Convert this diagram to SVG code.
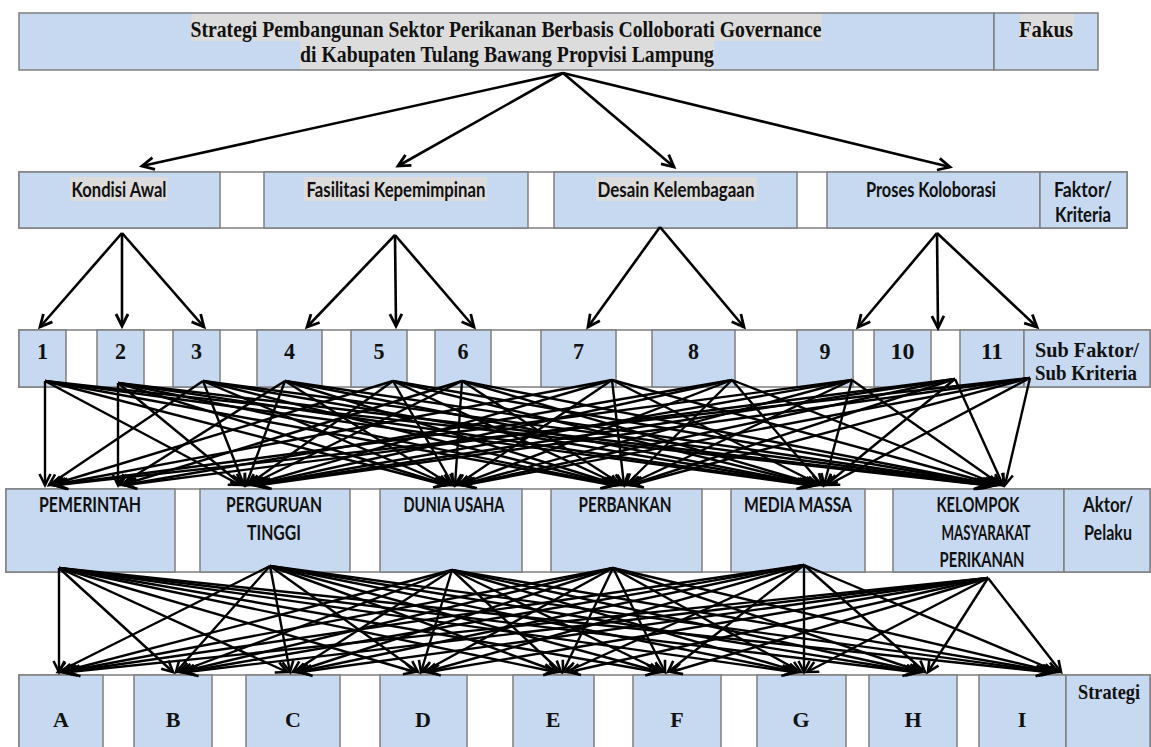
<svg xmlns="http://www.w3.org/2000/svg" width="1151" height="747" viewBox="0 0 1151 747">
<style>
.row{fill:#ffffff;stroke:#7f7f7f;stroke-width:1.5}
.cell{fill:#c6d9f0;stroke:#7f7f7f;stroke-width:1.5}
.hl{fill:#dcdcdc}
.serif{font-family:"Liberation Serif","Times New Roman",serif;font-weight:bold;fill:#111}
.sans{font-family:Lato,"Open Sans","Liberation Sans",sans-serif;font-weight:bold;fill:#111}
.arr{stroke:#000;stroke-width:2.6;fill:none;marker-end:url(#ah)}
.m{stroke:#000;stroke-width:2.4;fill:none;marker-end:url(#ah2)}
</style>
<defs>
<marker id="ah" markerUnits="userSpaceOnUse" markerWidth="16" markerHeight="16" viewBox="0 0 16 16" refX="14" refY="8" orient="auto" overflow="visible">
<path d="M2,2 L14,8 L2,14" fill="none" stroke="#000" stroke-width="2.8"/>
</marker>
<marker id="ah2" markerUnits="userSpaceOnUse" markerWidth="14" markerHeight="14" viewBox="0 0 14 14" refX="12" refY="7" orient="auto" overflow="visible">
<path d="M1,1.5 L12,7 L1,12.5" fill="none" stroke="#000" stroke-width="2.6"/>
</marker>
</defs>
<rect width="1151" height="747" fill="#ffffff"/>

<!-- Goal -->
<g id="goal">
<rect class="cell" x="19" y="13" width="975" height="57"/>
<rect class="hl" x="191" y="14" width="631" height="27"/>
<rect class="hl" x="300" y="41" width="414" height="28"/>
<text class="serif" x="506" y="37" font-size="23" text-anchor="middle" textLength="631" lengthAdjust="spacingAndGlyphs">Strategi Pembangunan Sektor Perikanan Berbasis Colloborati Governance</text>
<text class="serif" x="507" y="62" font-size="23" text-anchor="middle" textLength="414" lengthAdjust="spacingAndGlyphs">di Kabupaten Tulang Bawang Propvisi Lampung</text>
</g>
<g id="label-fakus">
<rect class="cell" x="994" y="13" width="104" height="57"/>
<rect class="hl" x="1020" y="14" width="54" height="25"/>
<text class="serif" x="1046" y="37" font-size="23" text-anchor="middle" textLength="54" lengthAdjust="spacingAndGlyphs">Fakus</text>
</g>

<!-- Row 2 -->
<rect class="row" x="19" y="172" width="1108" height="56"/>
<g id="kondisi-awal">
<rect class="cell" x="19" y="172" width="201" height="56"/>
<rect class="hl" x="70" y="177" width="98" height="24"/>
<text class="sans" x="119" y="197" font-size="20" text-anchor="middle" textLength="95" lengthAdjust="spacingAndGlyphs">Kondisi Awal</text>
</g>
<g id="fasilitasi">
<rect class="cell" x="264" y="172" width="264" height="56"/>
<rect class="hl" x="304" y="177" width="183" height="24"/>
<text class="sans" x="396" y="197" font-size="20" text-anchor="middle" textLength="179" lengthAdjust="spacingAndGlyphs">Fasilitasi Kepemimpinan</text>
</g>
<g id="desain">
<rect class="cell" x="554" y="172" width="243" height="56"/>
<rect class="hl" x="596" y="177" width="161" height="24"/>
<text class="sans" x="676" y="197" font-size="20" text-anchor="middle" textLength="157" lengthAdjust="spacingAndGlyphs">Desain Kelembagaan</text>
</g>
<g id="proses">
<rect class="cell" x="827" y="172" width="213" height="56"/>
<text class="sans" x="931" y="197" font-size="20" text-anchor="middle" textLength="130" lengthAdjust="spacingAndGlyphs">Proses Koloborasi</text>
</g>
<g id="label-faktor">
<rect class="cell" x="1040" y="172" width="87" height="56"/>
<text class="sans" x="1083" y="197" font-size="20" text-anchor="middle" textLength="58" lengthAdjust="spacingAndGlyphs">Faktor/</text>
<text class="sans" x="1083" y="222" font-size="20" text-anchor="middle" textLength="56" lengthAdjust="spacingAndGlyphs">Kriteria</text>
</g>

<!-- Row 3 -->
<rect class="row" x="19" y="330" width="1131" height="57"/>
<g id="sf1"><rect class="cell" x="19" y="330" width="47" height="57"/><text class="serif" x="42.5" y="359" font-size="24" text-anchor="middle" textLength="11" lengthAdjust="spacingAndGlyphs">1</text></g>
<g id="sf2"><rect class="cell" x="97" y="330" width="47" height="57"/><text class="serif" x="120.5" y="359" font-size="24" text-anchor="middle" textLength="11" lengthAdjust="spacingAndGlyphs">2</text></g>
<g id="sf3"><rect class="cell" x="173" y="330" width="47" height="57"/><text class="serif" x="196.5" y="359" font-size="24" text-anchor="middle" textLength="11" lengthAdjust="spacingAndGlyphs">3</text></g>
<g id="sf4"><rect class="cell" x="257" y="330" width="65" height="57"/><text class="serif" x="289.5" y="359" font-size="24" text-anchor="middle" textLength="11" lengthAdjust="spacingAndGlyphs">4</text></g>
<g id="sf5"><rect class="cell" x="351" y="330" width="56" height="57"/><text class="serif" x="379" y="359" font-size="24" text-anchor="middle" textLength="11" lengthAdjust="spacingAndGlyphs">5</text></g>
<g id="sf6"><rect class="cell" x="435" y="330" width="56" height="57"/><text class="serif" x="463" y="359" font-size="24" text-anchor="middle" textLength="11" lengthAdjust="spacingAndGlyphs">6</text></g>
<g id="sf7"><rect class="cell" x="541" y="330" width="75" height="57"/><text class="serif" x="578.5" y="359" font-size="24" text-anchor="middle" textLength="11" lengthAdjust="spacingAndGlyphs">7</text></g>
<g id="sf8"><rect class="cell" x="652" y="330" width="83" height="57"/><text class="serif" x="693.5" y="359" font-size="24" text-anchor="middle" textLength="11" lengthAdjust="spacingAndGlyphs">8</text></g>
<g id="sf9"><rect class="cell" x="797" y="330" width="56" height="57"/><text class="serif" x="825" y="359" font-size="24" text-anchor="middle" textLength="11" lengthAdjust="spacingAndGlyphs">9</text></g>
<g id="sf10"><rect class="cell" x="874" y="330" width="57" height="57"/><text class="serif" x="902.5" y="359" font-size="24" text-anchor="middle" textLength="24" lengthAdjust="spacingAndGlyphs">10</text></g>
<g id="sf11"><rect class="cell" x="960" y="330" width="64" height="57"/><text class="serif" x="992" y="359" font-size="24" text-anchor="middle" textLength="22" lengthAdjust="spacingAndGlyphs">11</text></g>
<g id="label-subfaktor">
<rect class="cell" x="1024" y="330" width="126" height="57"/>
<text class="serif" x="1035" y="357" font-size="21" textLength="104" lengthAdjust="spacingAndGlyphs">Sub Faktor/</text>
<text class="serif" x="1035" y="380" font-size="21" textLength="102" lengthAdjust="spacingAndGlyphs">Sub Kriteria</text>
</g>

<!-- Row 4 -->
<rect class="row" x="6" y="489" width="1144" height="83"/>
<g id="pemerintah"><rect class="cell" x="6" y="489" width="169" height="83"/>
<text class="sans" x="90" y="512" font-size="20" text-anchor="middle" textLength="102" lengthAdjust="spacingAndGlyphs">PEMERINTAH</text></g>
<g id="perguruan-tinggi"><rect class="cell" x="200" y="489" width="150" height="83"/>
<text class="sans" x="274" y="512" font-size="20" text-anchor="middle" textLength="96" lengthAdjust="spacingAndGlyphs">PERGURUAN</text>
<text class="sans" x="274" y="540" font-size="20" text-anchor="middle" textLength="54" lengthAdjust="spacingAndGlyphs">TINGGI</text></g>
<g id="dunia-usaha"><rect class="cell" x="380" y="489" width="142" height="83"/>
<text class="sans" x="454" y="512" font-size="20" text-anchor="middle" textLength="101" lengthAdjust="spacingAndGlyphs">DUNIA USAHA</text></g>
<g id="perbankan"><rect class="cell" x="551" y="489" width="151" height="83"/>
<text class="sans" x="625" y="512" font-size="20" text-anchor="middle" textLength="93" lengthAdjust="spacingAndGlyphs">PERBANKAN</text></g>
<g id="media-massa"><rect class="cell" x="731" y="489" width="134" height="83"/>
<text class="sans" x="798" y="512" font-size="20" text-anchor="middle" textLength="108" lengthAdjust="spacingAndGlyphs">MEDIA MASSA</text></g>
<g id="kelompok"><rect class="cell" x="893" y="489" width="171" height="83"/>
<text class="sans" x="978" y="512" font-size="20" text-anchor="middle" textLength="83" lengthAdjust="spacingAndGlyphs">KELOMPOK</text>
<text class="sans" x="986" y="540" font-size="20" text-anchor="middle" textLength="89" lengthAdjust="spacingAndGlyphs">MASYARAKAT</text>
<text class="sans" x="982" y="567" font-size="20" text-anchor="middle" textLength="85" lengthAdjust="spacingAndGlyphs">PERIKANAN</text></g>
<g id="label-aktor"><rect class="cell" x="1064" y="489" width="86" height="83"/>
<text class="sans" x="1108" y="512" font-size="20" text-anchor="middle" textLength="50" lengthAdjust="spacingAndGlyphs">Aktor/</text>
<text class="sans" x="1108" y="540" font-size="20" text-anchor="middle" textLength="48" lengthAdjust="spacingAndGlyphs">Pelaku</text></g>

<!-- Row 5 -->
<rect class="row" x="19" y="675" width="1131" height="80"/>
<g id="sA"><rect class="cell" x="19" y="675" width="84" height="80"/><text class="serif" x="61" y="727" font-size="22" text-anchor="middle">A</text></g>
<g id="sB"><rect class="cell" x="134" y="675" width="78" height="80"/><text class="serif" x="173" y="727" font-size="22" text-anchor="middle">B</text></g>
<g id="sC"><rect class="cell" x="246" y="675" width="94" height="80"/><text class="serif" x="293" y="727" font-size="22" text-anchor="middle">C</text></g>
<g id="sD"><rect class="cell" x="380" y="675" width="87" height="80"/><text class="serif" x="423" y="727" font-size="22" text-anchor="middle">D</text></g>
<g id="sE"><rect class="cell" x="513" y="675" width="81" height="80"/><text class="serif" x="553" y="727" font-size="22" text-anchor="middle">E</text></g>
<g id="sF"><rect class="cell" x="633" y="675" width="88" height="80"/><text class="serif" x="677" y="727" font-size="22" text-anchor="middle">F</text></g>
<g id="sG"><rect class="cell" x="757" y="675" width="89" height="80"/><text class="serif" x="801" y="727" font-size="22" text-anchor="middle">G</text></g>
<g id="sH"><rect class="cell" x="869" y="675" width="88" height="80"/><text class="serif" x="913" y="727" font-size="22" text-anchor="middle">H</text></g>
<g id="sI"><rect class="cell" x="979" y="675" width="87" height="80"/><text class="serif" x="1022" y="727" font-size="22" text-anchor="middle">I</text></g>
<g id="label-strategi"><rect class="cell" x="1066" y="675" width="84" height="80"/>
<text class="serif" x="1109" y="699" font-size="22" text-anchor="middle" textLength="62" lengthAdjust="spacingAndGlyphs">Strategi</text></g>

<!-- Connectors -->
<g id="connectors">
<line class="arr" x1="563" y1="73" x2="142" y2="166"/>
<line class="arr" x1="563" y1="73" x2="398" y2="166"/>
<line class="arr" x1="563" y1="73" x2="674" y2="167"/>
<line class="arr" x1="563" y1="73" x2="950" y2="167"/>

<line class="arr" x1="122" y1="233" x2="40" y2="327"/>
<line class="arr" x1="122" y1="233" x2="122" y2="326"/>
<line class="arr" x1="122" y1="233" x2="204" y2="327"/>
<line class="arr" x1="395" y1="235" x2="307" y2="327"/>
<line class="arr" x1="395" y1="235" x2="396" y2="326"/>
<line class="arr" x1="395" y1="235" x2="474" y2="327"/>
<line class="arr" x1="660" y1="227" x2="588" y2="327"/>
<line class="arr" x1="660" y1="227" x2="744" y2="327"/>
<line class="arr" x1="937" y1="233" x2="858" y2="327"/>
<line class="arr" x1="937" y1="233" x2="938" y2="328"/>
<line class="arr" x1="937" y1="233" x2="1037" y2="327"/>

<!-- sub factors to actors -->
<g id="mesh-sub-aktor">
<line class="m" x1="45" y1="381" x2="45" y2="485"/>
<line class="m" x1="45" y1="381" x2="240" y2="485"/>
<line class="m" x1="45" y1="381" x2="445" y2="485"/>
<line class="m" x1="45" y1="381" x2="612" y2="485"/>
<line class="m" x1="45" y1="381" x2="808" y2="485"/>
<line class="m" x1="45" y1="381" x2="985" y2="485"/>

<line class="m" x1="118" y1="383" x2="118" y2="485"/>
<line class="m" x1="118" y1="383" x2="242" y2="485"/>
<line class="m" x1="118" y1="383" x2="447" y2="485"/>
<line class="m" x1="118" y1="383" x2="614" y2="485"/>
<line class="m" x1="118" y1="383" x2="810" y2="485"/>
<line class="m" x1="118" y1="383" x2="987" y2="485"/>

<line class="m" x1="203" y1="381" x2="49" y2="485"/>
<line class="m" x1="203" y1="381" x2="244" y2="485"/>
<line class="m" x1="203" y1="381" x2="449" y2="485"/>
<line class="m" x1="203" y1="381" x2="616" y2="485"/>
<line class="m" x1="203" y1="381" x2="812" y2="485"/>
<line class="m" x1="203" y1="381" x2="989" y2="485"/>

<line class="m" x1="285" y1="381" x2="120" y2="485"/>
<line class="m" x1="285" y1="381" x2="246" y2="485"/>
<line class="m" x1="285" y1="381" x2="451" y2="485"/>
<line class="m" x1="285" y1="381" x2="618" y2="485"/>
<line class="m" x1="285" y1="381" x2="814" y2="485"/>
<line class="m" x1="285" y1="381" x2="991" y2="485"/>

<line class="m" x1="393" y1="381" x2="51" y2="485"/>
<line class="m" x1="393" y1="381" x2="248" y2="485"/>
<line class="m" x1="393" y1="381" x2="453" y2="485"/>
<line class="m" x1="393" y1="381" x2="620" y2="485"/>
<line class="m" x1="393" y1="381" x2="816" y2="485"/>
<line class="m" x1="393" y1="381" x2="993" y2="485"/>

<line class="m" x1="462" y1="381" x2="122" y2="485"/>
<line class="m" x1="462" y1="381" x2="250" y2="485"/>
<line class="m" x1="462" y1="381" x2="455" y2="485"/>
<line class="m" x1="462" y1="381" x2="622" y2="485"/>
<line class="m" x1="462" y1="381" x2="818" y2="485"/>
<line class="m" x1="462" y1="381" x2="995" y2="485"/>

<line class="m" x1="612" y1="380" x2="53" y2="485"/>
<line class="m" x1="612" y1="380" x2="252" y2="485"/>
<line class="m" x1="612" y1="380" x2="457" y2="485"/>
<line class="m" x1="612" y1="380" x2="624" y2="485"/>
<line class="m" x1="612" y1="380" x2="820" y2="485"/>
<line class="m" x1="612" y1="380" x2="997" y2="485"/>

<line class="m" x1="732" y1="380" x2="124" y2="485"/>
<line class="m" x1="732" y1="380" x2="254" y2="485"/>
<line class="m" x1="732" y1="380" x2="459" y2="485"/>
<line class="m" x1="732" y1="380" x2="626" y2="485"/>
<line class="m" x1="732" y1="380" x2="822" y2="485"/>
<line class="m" x1="732" y1="380" x2="999" y2="485"/>

<line class="m" x1="852" y1="380" x2="55" y2="485"/>
<line class="m" x1="852" y1="380" x2="256" y2="485"/>
<line class="m" x1="852" y1="380" x2="461" y2="485"/>
<line class="m" x1="852" y1="380" x2="628" y2="485"/>
<line class="m" x1="852" y1="380" x2="824" y2="485"/>
<line class="m" x1="852" y1="380" x2="1001" y2="485"/>

<line class="m" x1="955" y1="379" x2="126" y2="485"/>
<line class="m" x1="955" y1="379" x2="258" y2="485"/>
<line class="m" x1="955" y1="379" x2="463" y2="485"/>
<line class="m" x1="955" y1="379" x2="630" y2="485"/>
<line class="m" x1="955" y1="379" x2="826" y2="485"/>
<line class="m" x1="955" y1="379" x2="1003" y2="485"/>

<line class="m" x1="1030" y1="378" x2="57" y2="485"/>
<line class="m" x1="1030" y1="378" x2="260" y2="485"/>
<line class="m" x1="1030" y1="378" x2="465" y2="485"/>
<line class="m" x1="1030" y1="378" x2="632" y2="485"/>
<line class="m" x1="1030" y1="378" x2="828" y2="485"/>
<line class="m" x1="1030" y1="378" x2="1005" y2="485"/>
</g>

<!-- actors to strategies -->
<g id="mesh-aktor-strategi">
<line class="m" x1="59" y1="568" x2="59" y2="672"/>
<line class="m" x1="59" y1="568" x2="173" y2="672"/>
<line class="m" x1="59" y1="568" x2="287" y2="672"/>
<line class="m" x1="59" y1="568" x2="415" y2="672"/>
<line class="m" x1="59" y1="568" x2="555" y2="672"/>
<line class="m" x1="59" y1="568" x2="657" y2="672"/>
<line class="m" x1="59" y1="568" x2="793" y2="672"/>
<line class="m" x1="59" y1="568" x2="914" y2="672"/>
<line class="m" x1="59" y1="568" x2="1047" y2="672"/>

<line class="m" x1="270" y1="566" x2="58" y2="672"/>
<line class="m" x1="270" y1="566" x2="176" y2="672"/>
<line class="m" x1="270" y1="566" x2="290" y2="672"/>
<line class="m" x1="270" y1="566" x2="418" y2="672"/>
<line class="m" x1="270" y1="566" x2="558" y2="672"/>
<line class="m" x1="270" y1="566" x2="660" y2="672"/>
<line class="m" x1="270" y1="566" x2="796" y2="672"/>
<line class="m" x1="270" y1="566" x2="917" y2="672"/>
<line class="m" x1="270" y1="566" x2="1050" y2="672"/>

<line class="m" x1="452" y1="570" x2="61" y2="672"/>
<line class="m" x1="452" y1="570" x2="179" y2="672"/>
<line class="m" x1="452" y1="570" x2="293" y2="672"/>
<line class="m" x1="452" y1="570" x2="421" y2="672"/>
<line class="m" x1="452" y1="570" x2="561" y2="672"/>
<line class="m" x1="452" y1="570" x2="663" y2="672"/>
<line class="m" x1="452" y1="570" x2="799" y2="672"/>
<line class="m" x1="452" y1="570" x2="920" y2="672"/>
<line class="m" x1="452" y1="570" x2="1053" y2="672"/>

<line class="m" x1="613" y1="568" x2="63" y2="672"/>
<line class="m" x1="613" y1="568" x2="181" y2="672"/>
<line class="m" x1="613" y1="568" x2="295" y2="672"/>
<line class="m" x1="613" y1="568" x2="423" y2="672"/>
<line class="m" x1="613" y1="568" x2="563" y2="672"/>
<line class="m" x1="613" y1="568" x2="665" y2="672"/>
<line class="m" x1="613" y1="568" x2="801" y2="672"/>
<line class="m" x1="613" y1="568" x2="922" y2="672"/>
<line class="m" x1="613" y1="568" x2="1055" y2="672"/>

<line class="m" x1="804" y1="565" x2="66" y2="672"/>
<line class="m" x1="804" y1="565" x2="184" y2="672"/>
<line class="m" x1="804" y1="565" x2="298" y2="672"/>
<line class="m" x1="804" y1="565" x2="426" y2="672"/>
<line class="m" x1="804" y1="565" x2="566" y2="672"/>
<line class="m" x1="804" y1="565" x2="668" y2="672"/>
<line class="m" x1="804" y1="565" x2="804" y2="672"/>
<line class="m" x1="804" y1="565" x2="925" y2="672"/>
<line class="m" x1="804" y1="565" x2="1058" y2="672"/>

<line class="m" x1="988" y1="578" x2="69" y2="672"/>
<line class="m" x1="988" y1="578" x2="187" y2="672"/>
<line class="m" x1="988" y1="578" x2="301" y2="672"/>
<line class="m" x1="988" y1="578" x2="429" y2="672"/>
<line class="m" x1="988" y1="578" x2="569" y2="672"/>
<line class="m" x1="988" y1="578" x2="671" y2="672"/>
<line class="m" x1="988" y1="578" x2="807" y2="672"/>
<line class="m" x1="988" y1="578" x2="928" y2="672"/>
<line class="m" x1="988" y1="578" x2="1061" y2="672"/>
</g>
</g>
</svg>
